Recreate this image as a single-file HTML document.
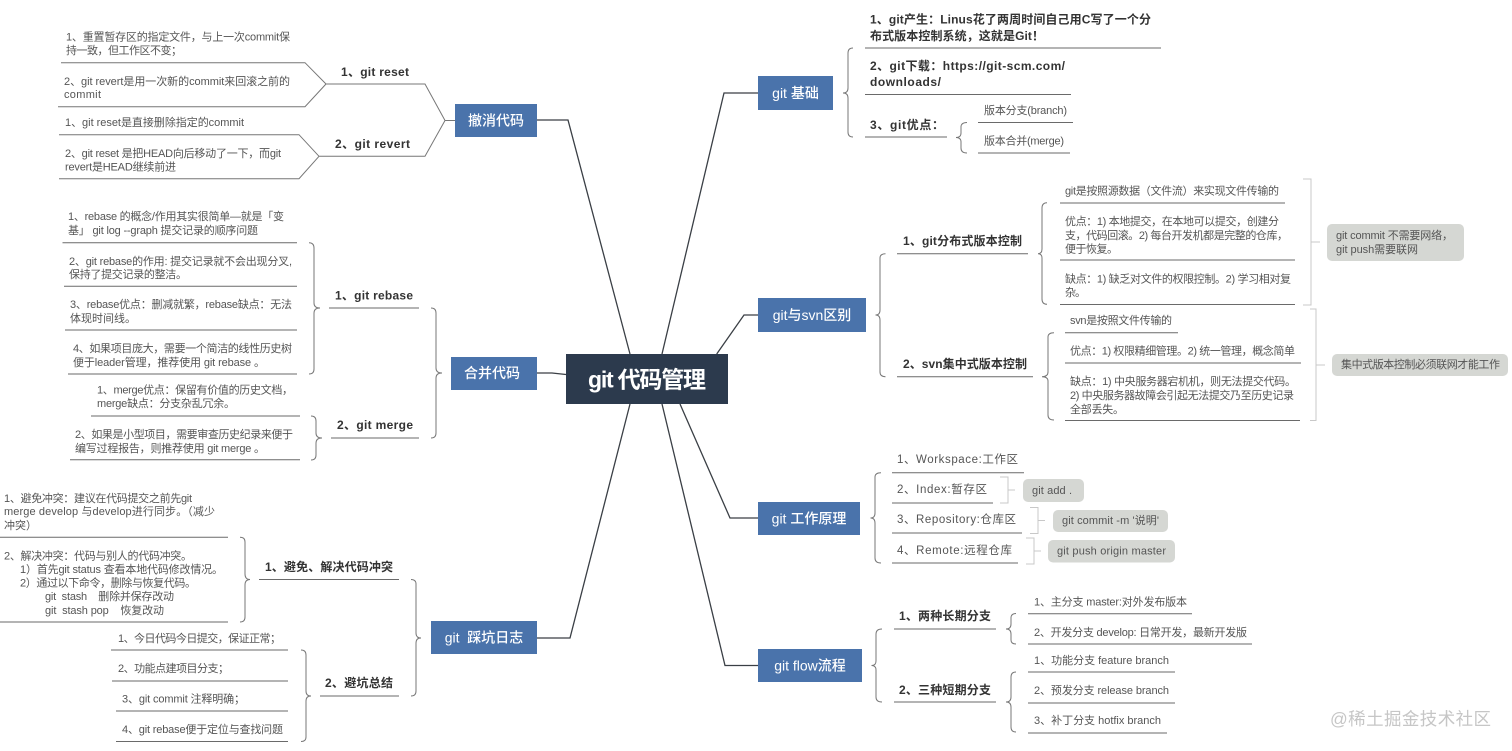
<!DOCTYPE html>
<html lang="zh">
<head>
<meta charset="utf-8">
<title>git 代码管理</title>
<style>
html,body{margin:0;padding:0;background:#fff;width:1512px;height:751px;overflow:hidden}
svg{display:block;font-family:"Liberation Sans","Noto Sans CJK SC",sans-serif;filter:blur(.35px)}
text{dominant-baseline:central;white-space:pre}
.t{font-size:11px;fill:#555}
.s{font-size:11.5px;fill:#555}
.b{font-size:12px;font-weight:bold;fill:#333}
.n{font-size:14px;fill:#fff;text-anchor:middle;font-weight:500}
.g{font-size:11px;fill:#555}
.l{stroke:#6a6a6a;stroke-width:1;fill:none}
.m{stroke:#3a3f45;stroke-width:1.3;fill:none}
.h{stroke:#777;stroke-width:1;fill:none}
.r{stroke:#c8c8c8;stroke-width:1;fill:none}
.box{fill:#4a73ab}
.gb{fill:#d5d7d3}
</style>
</head>
<body>
<svg width="1512" height="751" viewBox="0 0 1512 751" xmlns="http://www.w3.org/2000/svg">
<rect width="1512" height="751" fill="#fff"/>

<!-- main connectors -->
<path class="m" d="M630 354L568 120H537M566 374.5L552 373H537M630 404L570 638H537M662 354L724 93H758M716.7 354L744 315H758M680 404L730 518H758M662 404L725 665.5H758"/>
<rect x="566" y="354" width="162" height="50" fill="#2c3a4d"/>
<text x="588" y="379.5" font-size="23" font-weight="bold" fill="#fff" textLength="118">git 代码管理</text>

<!-- 撤消代码 -->
<rect class="box" x="455" y="104" width="82" height="33"/>
<text class="n" x="496" y="120.5">撤消代码</text>
<path class="h" d="M455 120.5H445L425 84H326L305 62.7H61M326 84L305 106.7H58M445 120.5L425 156.3H319L299 134.7H59M319 156.3L299 178.7H59"/>
<text class="b" x="341" y="72" textLength="68">1、git reset</text>
<text class="b" x="335" y="144" textLength="75">2、git revert</text>
<text class="t" x="66" y="37.5" textLength="224">1、重置暂存区的指定文件，与上一次commit保</text>
<text class="t" x="66" y="51" textLength="116">持一致，但工作区不变；</text>
<text class="t" x="64" y="82" textLength="226">2、git revert是用一次新的commit来回滚之前的</text>
<text class="t" x="64" y="95" textLength="37">commit</text>
<text class="t" x="65" y="123" textLength="179">1、git reset是直接删除指定的commit</text>
<text class="t" x="65" y="154" textLength="216">2、git reset 是把HEAD向后移动了一下，而git</text>
<text class="t" x="65" y="167.5" textLength="111">revert是HEAD继续前进</text>

<!-- 合并代码 -->
<rect class="box" x="451" y="357" width="86" height="33"/>
<text class="n" x="492" y="373">合并代码</text>
<path class="h" d="M431 308Q436 308 436 313V368Q436 373 442 373Q436 373 436 378V433Q436 438 431 438"/>
<path class="h" d="M309 242.7Q314 242.7 314 248V303Q314 308 320 308Q314 308 314 313V369Q314 374 309 374"/>
<path class="h" d="M311 416Q316 416 316 421V433Q316 438 322 438Q316 438 316 443V455Q316 460 311 460"/>
<path class="l" d="M329 308H419M331 438H419M62.5 242.7H297M64 286.3H297M65 330H297M68 374H297M91 416H300M70 459.7H300"/>
<text class="b" x="335" y="295.5" textLength="78">1、git rebase</text>
<text class="b" x="337" y="425" textLength="76">2、git merge</text>
<text class="t" x="68" y="217" textLength="216">1、rebase 的概念/作用其实很简单—就是「变</text>
<text class="t" x="68" y="231" textLength="190">基」 git log --graph 提交记录的顺序问题</text>
<text class="t" x="69" y="262" textLength="223">2、git rebase的作用: 提交记录就不会出现分叉,</text>
<text class="t" x="69" y="275" textLength="118">保持了提交记录的整洁。</text>
<text class="t" x="70" y="305" textLength="222">3、rebase优点：删减就繁，rebase缺点：无法</text>
<text class="t" x="70" y="319" textLength="66">体现时间线。</text>
<text class="t" x="73" y="349" textLength="219">4、如果项目庞大，需要一个简洁的线性历史树</text>
<text class="t" x="73" y="363" textLength="192">便于leader管理，推荐使用 git rebase 。</text>
<text class="t" x="97" y="390.5" textLength="196">1、merge优点：保留有价值的历史文档，</text>
<text class="t" x="97" y="404" textLength="138">merge缺点：分支杂乱冗余。</text>
<text class="t" x="75" y="435" textLength="218">2、如果是小型项目，需要审查历史纪录来便于</text>
<text class="t" x="75" y="449" textLength="190">编写过程报告，则推荐使用 git merge 。</text>

<!-- 踩坑日志 -->
<rect class="box" x="431" y="621" width="106" height="33"/>
<text class="n" x="484" y="637.5" xml:space="preserve">git  踩坑日志</text>
<path class="h" d="M411 579.5Q416 579.5 416 584V633Q416 638 421 638Q416 638 416 643V691Q416 696 411 696"/>
<path class="h" d="M240 537.3Q245 537.3 245 542V574Q245 579.5 250 579.5Q245 579.5 245 585V617Q245 622 240 622"/>
<path class="h" d="M301 650Q306 650 306 655V691Q306 696 311 696Q306 696 306 701V737Q306 741.5 301 741.5"/>
<path class="l" d="M259 579.5H399M320 696H399M0 537.3H228M0 622H228M111 650H288M112 681H288M116 711H288M116 741.5H288"/>
<text class="b" x="265" y="567" textLength="128">1、避免、解决代码冲突</text>
<text class="b" x="325" y="683" textLength="68">2、避坑总结</text>
<text class="t" x="4" y="499" textLength="188">1、避免冲突：建议在代码提交之前先git</text>
<text class="t" x="4" y="512" textLength="211">merge develop 与develop进行同步。（减少</text>
<text class="t" x="4" y="526">冲突）</text>
<text class="t" x="4" y="556.5" textLength="188">2、解决冲突：代码与别人的代码冲突。</text>
<text class="t" x="20" y="570" textLength="203">1）首先git status 查看本地代码修改情况。</text>
<text class="t" x="20" y="583.5" textLength="176">2）通过以下命令，删除与恢复代码。</text>
<text class="t" x="45" y="597" textLength="129" xml:space="preserve">git  stash    删除并保存改动</text>
<text class="t" x="45" y="611" textLength="119" xml:space="preserve">git  stash pop    恢复改动</text>
<text class="t" x="118" y="639" textLength="163">1、今日代码今日提交，保证正常；</text>
<text class="t" x="118" y="669" textLength="111">2、功能点建项目分支；</text>
<text class="t" x="122" y="699.5" textLength="123">3、git commit 注释明确；</text>
<text class="t" x="122" y="730" textLength="161">4、git rebase便于定位与查找问题</text>

<!-- git 基础 -->
<rect class="box" x="758" y="76" width="75" height="34"/>
<text class="n" x="795.5" y="93">git 基础</text>
<path class="h" d="M853 48Q848 48 848 53V88Q848 93 843 93Q848 93 848 98V132Q848 137 853 137"/>
<path class="h" d="M967 122.5Q961 122.5 961 127V133Q961 137.5 956 137.5Q961 137.5 961 142V148Q961 153 967 153"/>
<path class="l" d="M865 48H1161M865 94.5H1071M865 137H947M978 122.5H1073M978 153H1070"/>
<text class="b" x="870" y="19.5" textLength="281">1、git产生：Linus花了两周时间自己用C写了一个分</text>
<text class="b" x="870" y="36" textLength="174">布式版本控制系统，这就是Git！</text>
<text class="b" x="870" y="66" textLength="195">2、git下载：https://git-scm.com/</text>
<text class="b" x="870" y="82" textLength="71">downloads/</text>
<text class="b" x="870" y="125" textLength="74">3、git优点：</text>
<text class="t" x="984" y="111" textLength="83">版本分支(branch)</text>
<text class="t" x="984" y="141.5" textLength="80">版本合并(merge)</text>

<!-- git与svn区别 -->
<rect class="box" x="758" y="298" width="108" height="34"/>
<text class="n" x="812" y="315">git与svn区别</text>
<path class="h" d="M885.5 253.7Q880 253.7 880 258V310Q880 315 875.5 315Q880 315 880 320V372Q880 376.7 885.5 376.7"/>
<path class="h" d="M1047 202.7Q1042 202.7 1042 208V249Q1042 253.7 1038 253.7Q1042 253.7 1042 258V299Q1042 304.3 1047 304.3"/>
<path class="h" d="M1054 332.7Q1048 332.7 1048 337V372Q1048 376.7 1042 376.7Q1048 376.7 1048 381V415Q1048 420 1054 420"/>
<path class="l" d="M897 253.7H1028M897 376.7H1033M1060 203H1285M1060 260H1295M1060 304.5H1295M1065 332.7H1178M1065 363H1301M1065 420.5H1300"/>
<path class="r" d="M1303 179H1311V305H1303M1311 242H1320M1310 309H1316V420.5H1310M1316 365H1325"/>
<text class="b" x="903" y="241" textLength="119">1、git分布式版本控制</text>
<text class="b" x="903" y="364" textLength="124">2、svn集中式版本控制</text>
<text class="t" x="1065" y="191.7" textLength="214">git是按照源数据（文件流）来实现文件传输的</text>
<text class="t" x="1065" y="222" textLength="214">优点：1) 本地提交，在本地可以提交，创建分</text>
<text class="t" x="1065" y="236" textLength="223">支，代码回滚。2) 每台开发机都是完整的仓库，</text>
<text class="t" x="1065" y="249.5" textLength="53">便于恢复。</text>
<text class="t" x="1065" y="279.5" textLength="226">缺点：1) 缺乏对文件的权限控制。2) 学习相对复</text>
<text class="t" x="1065" y="293" textLength="21">杂。</text>
<text class="t" x="1070" y="321" textLength="102">svn是按照文件传输的</text>
<text class="t" x="1070" y="351.7" textLength="225">优点：1) 权限精细管理。2) 统一管理，概念简单</text>
<text class="t" x="1070" y="382" textLength="226">缺点：1) 中央服务器宕机机，则无法提交代码。</text>
<text class="t" x="1070" y="396" textLength="224">2) 中央服务器故障会引起无法提交乃至历史记录</text>
<text class="t" x="1070" y="410" textLength="54">全部丢失。</text>
<rect class="gb" x="1327" y="224" width="137" height="37" rx="5"/>
<text class="g" x="1336" y="236" textLength="117">git commit 不需要网络，</text>
<text class="g" x="1336" y="250" textLength="82">git push需要联网</text>
<rect class="gb" x="1332" y="354" width="176" height="22" rx="5"/>
<text class="g" x="1341" y="365" textLength="159">集中式版本控制必须联网才能工作</text>

<!-- git 工作原理 -->
<rect class="box" x="758" y="502" width="102" height="33"/>
<text class="n" x="809" y="518.5">git 工作原理</text>
<path class="h" d="M881 472.7Q875 472.7 875 477V513Q875 518 870.5 518Q875 518 875 523V558Q875 563 881 563"/>
<path class="l" d="M892 472.7H1024M892 503H993M892 533H1022M892 563H1018"/>
<path class="r" d="M1000 477H1008V503H1000M1008 490H1015M1030 507.5H1038V533.5H1030M1038 520.5H1045M1026 538H1034V564H1026M1034 551H1041"/>
<text class="s" x="897" y="460" textLength="121">1、Workspace:工作区</text>
<text class="s" x="897" y="490" textLength="90">2、Index:暂存区</text>
<text class="s" x="897" y="520" textLength="119">3、Repository:仓库区</text>
<text class="s" x="897" y="551" textLength="115">4、Remote:远程仓库</text>
<rect class="gb" x="1023" y="479" width="61" height="23" rx="5"/>
<text class="g" x="1032" y="491" textLength="40">git add .</text>
<rect class="gb" x="1053" y="510" width="115" height="22" rx="5"/>
<text class="g" x="1062" y="521" textLength="97">git commit -m '说明'</text>
<rect class="gb" x="1048" y="540" width="127" height="22.5" rx="5"/>
<text class="g" x="1057" y="551.5" textLength="109">git push origin master</text>

<!-- git flow流程 -->
<rect class="box" x="758" y="649" width="104" height="33"/>
<text class="n" x="810" y="665.5">git flow流程</text>
<path class="h" d="M882 629Q876 629 876 634V661Q876 665.5 871.5 665.5Q876 665.5 876 670V697Q876 702 882 702"/>
<path class="h" d="M1016 613.5Q1011 613.5 1011 618V624Q1011 629 1006 629Q1011 629 1011 634V640Q1011 644 1016 644"/>
<path class="h" d="M1016 672Q1011 672 1011 677V697Q1011 702 1006 702Q1011 702 1011 707V727Q1011 732 1016 732"/>
<path class="l" d="M894 629H996M894 702H996M1028 613.7H1192M1028 644H1252M1028 672H1175M1028 703H1175M1028 733H1167"/>
<text class="b" x="899" y="616" textLength="92">1、两种长期分支</text>
<text class="b" x="899" y="690" textLength="92">2、三种短期分支</text>
<text class="t" x="1034" y="602.5" textLength="153">1、主分支 master:对外发布版本</text>
<text class="t" x="1034" y="633" textLength="213">2、开发分支 develop: 日常开发，最新开发版</text>
<text class="t" x="1034" y="661" textLength="135">1、功能分支 feature branch</text>
<text class="t" x="1034" y="691" textLength="135">2、预发分支 release branch</text>
<text class="t" x="1034" y="721" textLength="127">3、补丁分支 hotfix branch</text>

<text x="1330" y="719" font-size="17.5" fill="#c6c6c6" textLength="161">@稀土掘金技术社区</text>
</svg>
</body>
</html>
